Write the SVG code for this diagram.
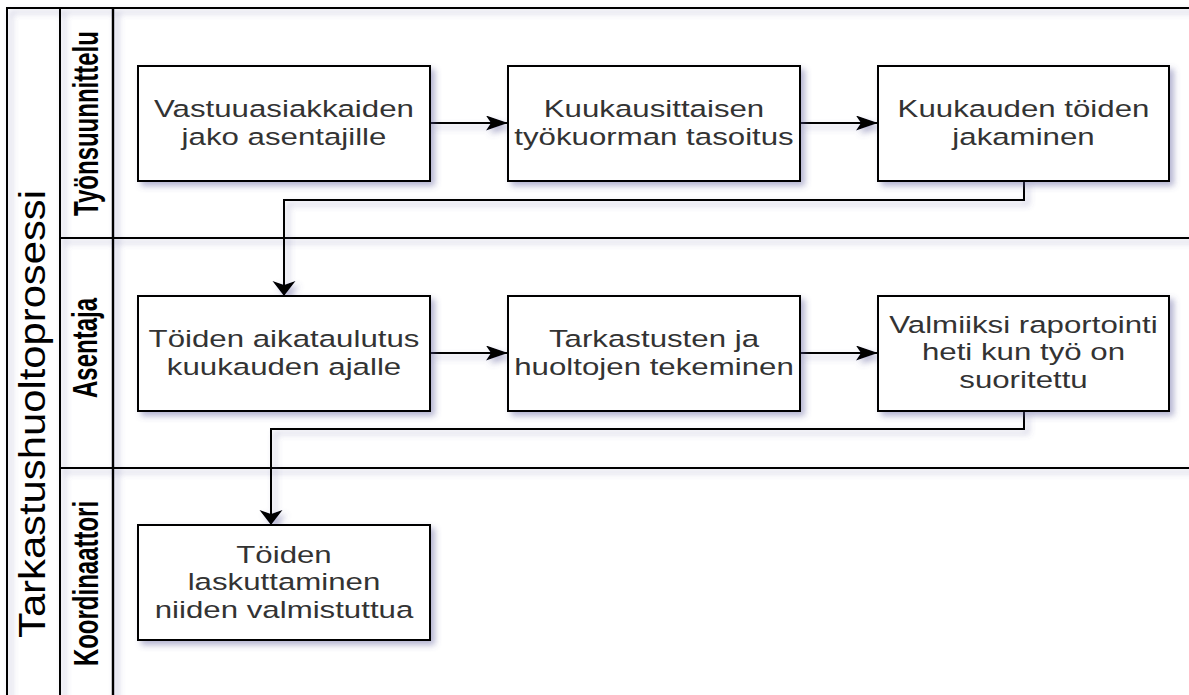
<svg xmlns="http://www.w3.org/2000/svg" width="1189" height="695" viewBox="0 0 1189 695">
<style>
.node{fill:#fff;stroke:#000;stroke-width:2}
.lbl{font-family:"Liberation Sans",Arial,Helvetica,sans-serif;font-size:24.5px;fill:#333;text-anchor:middle}
.lane{font-family:"Liberation Sans",Arial,Helvetica,sans-serif;font-size:24px;font-weight:bold;fill:#000;text-anchor:middle}
.title{font-family:"Liberation Sans",Arial,Helvetica,sans-serif;font-size:37px;fill:#000;text-anchor:middle}
.edge{fill:none;stroke:#000;stroke-width:2}
.pl{stroke:#000;stroke-width:2;fill:none}
</style>
<defs>
<filter id="sh" x="-10%" y="-10%" width="130%" height="130%">
<feDropShadow dx="4" dy="4" stdDeviation="3" flood-color="#5a5a9a" flood-opacity="0.45"/>
</filter>
<marker id="ah" markerUnits="userSpaceOnUse" markerWidth="24" markerHeight="16" refX="22" refY="7.5" orient="auto">
<path d="M0,0 L22,7.5 L0,15 L5,7.5 Z" fill="#000"/>
</marker>
<marker id="av" markerUnits="userSpaceOnUse" markerWidth="16" markerHeight="24" refX="15" refY="11.5" orient="auto">
<path d="M0,0 L15,11.5 L0,23 L4,11.5 Z" fill="#000"/>
</marker>
</defs>
<rect width="1189" height="695" fill="#fff"/>
<g id="pool" filter="url(#sh)">
<rect class="pl" x="7" y="8" width="1200" height="720" fill="#fff"/>
<line class="pl" x1="60" y1="8" x2="60" y2="720"/>
<line class="pl" x1="113" y1="8" x2="113" y2="720" style="stroke-width:2.5"/>
<line class="pl" x1="60" y1="238" x2="1200" y2="238"/>
<line class="pl" x1="60" y1="468" x2="1200" y2="468"/>
</g>
<g id="pool-title">
<text class="title" transform="translate(45,414) rotate(-90)" textLength="448" lengthAdjust="spacingAndGlyphs">Tarkastushuoltoprosessi</text>
</g>
<g id="lane-tyonsuunnittelu">
<text class="lane" transform="translate(98,123.5) rotate(-90) scale(1,1.45)">Työnsuunnittelu</text>
</g>
<g id="lane-asentaja">
<text class="lane" transform="translate(97,348) rotate(-90) scale(1,1.45)">Asentaja</text>
</g>
<g id="lane-koordinaattori">
<text class="lane" transform="translate(98,583.5) rotate(-90) scale(1,1.45)">Koordinaattori</text>
</g>
<g id="connectors" filter="url(#sh)">
<line class="edge" x1="430" y1="123" x2="508" y2="123" marker-end="url(#ah)"/>
<line class="edge" x1="800" y1="123" x2="878" y2="123" marker-end="url(#ah)"/>
<polyline class="edge" points="1024,181 1024,200 284,200 284,296" marker-end="url(#av)"/>
<line class="edge" x1="430" y1="353" x2="508" y2="353" marker-end="url(#ah)"/>
<line class="edge" x1="800" y1="353" x2="878" y2="353" marker-end="url(#ah)"/>
<polyline class="edge" points="1024,411 1024,429 271,429 271,525" marker-end="url(#av)"/>
</g>
<g id="n1">
<rect class="node" x="138" y="66" width="292" height="115" filter="url(#sh)"/>
<text class="lbl" transform="translate(284,0) scale(1.275,1)"><tspan x="0" y="117.5">Vastuuasiakkaiden</tspan><tspan x="0" y="145">jako asentajille</tspan></text>
</g>
<g id="n2">
<rect class="node" x="508" y="66" width="292" height="115" filter="url(#sh)"/>
<text class="lbl" transform="translate(654,0) scale(1.275,1)"><tspan x="0" y="117.5">Kuukausittaisen</tspan><tspan x="0" y="145">työkuorman tasoitus</tspan></text>
</g>
<g id="n3">
<rect class="node" x="878" y="66" width="291" height="115" filter="url(#sh)"/>
<text class="lbl" transform="translate(1023.5,0) scale(1.275,1)"><tspan x="0" y="117.5">Kuukauden töiden</tspan><tspan x="0" y="145">jakaminen</tspan></text>
</g>
<g id="n4">
<rect class="node" x="138" y="296" width="292" height="115" filter="url(#sh)"/>
<text class="lbl" transform="translate(284,0) scale(1.275,1)"><tspan x="0" y="347.5">Töiden aikataulutus</tspan><tspan x="0" y="375">kuukauden ajalle</tspan></text>
</g>
<g id="n5">
<rect class="node" x="508" y="296" width="292" height="115" filter="url(#sh)"/>
<text class="lbl" transform="translate(654,0) scale(1.275,1)"><tspan x="0" y="347.5">Tarkastusten ja</tspan><tspan x="0" y="375">huoltojen tekeminen</tspan></text>
</g>
<g id="n6">
<rect class="node" x="878" y="296" width="291" height="115" filter="url(#sh)"/>
<text class="lbl" transform="translate(1023.5,0) scale(1.275,1)"><tspan x="0" y="333">Valmiiksi raportointi</tspan><tspan x="0" y="360.5">heti kun työ on</tspan><tspan x="0" y="388">suoritettu</tspan></text>
</g>
<g id="n7">
<rect class="node" x="138" y="525" width="292" height="115" filter="url(#sh)"/>
<text class="lbl" transform="translate(284,0) scale(1.275,1)"><tspan x="0" y="563">Töiden</tspan><tspan x="0" y="590">laskuttaminen</tspan><tspan x="0" y="618">niiden valmistuttua</tspan></text>
</g>
</svg>
